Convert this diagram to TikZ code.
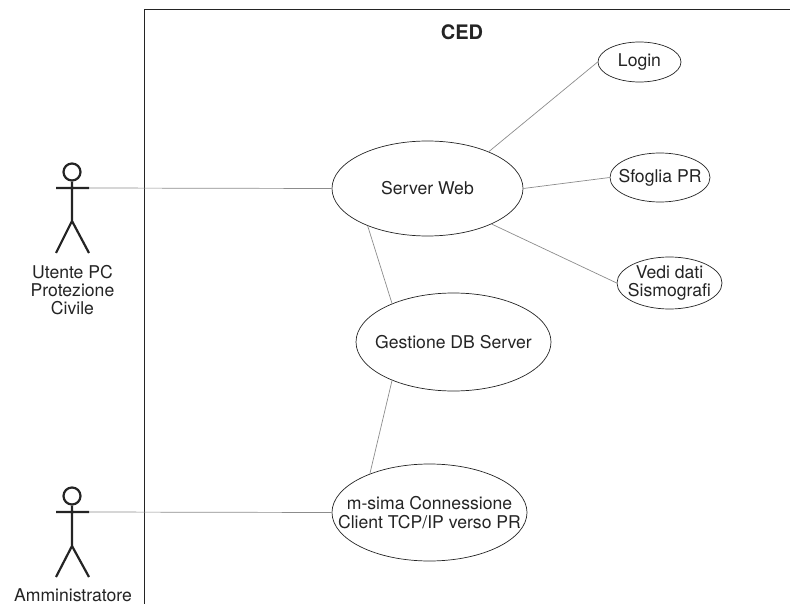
\documentclass[tikz,border=0pt]{standalone}
\usepackage{fontspec}
\setmainfont{TeX Gyre Heros}
\usepackage{xcolor}
\usetikzlibrary{shapes.geometric}
\definecolor{txtgray}{gray}{0.14}
\definecolor{wiregray}{gray}{0.55}

\begin{document}
\begin{tikzpicture} [x=1pt, y=-1pt,
    usecase/.style={draw=txtgray, ellipse, inner sep=-30pt, line width=0.7pt, align=center, font=\fontsize{17.6}{18.5}\selectfont, text=txtgray},
    actorlabel/.style={align=center, inner sep=0pt, font=\fontsize{17.6}{18}\selectfont, text=txtgray},
    stick/.style={draw=txtgray, line width=2.2pt},
    wire/.style={draw=wiregray, line width=0.7pt}
  ]
  \useasboundingbox (0,0) rectangle (790,604);
  % system frame
  \draw[txtgray, line width=1pt] (144,604) -- (144,10) -- (790,10);
  \node[font=\bfseries\fontsize{20}{22}\selectfont, text=txtgray, inner sep=0pt] (ced) at (462,32) {CED};

  % use cases
  \node[usecase, minimum width=191pt, minimum height=95pt] (srv) at (427.5,188.5) {Server Web};
  \node[usecase, minimum width=83pt, minimum height=40pt] (login) at (639.5,62) {Login};
  \node[usecase, minimum width=100pt, minimum height=49pt] (sfoglia) at (660,177.5) {Sfoglia PR};
  \node[usecase, minimum width=105pt, minimum height=52pt] (vedi) at (669.5,283) {Vedi dati\\Sismografi};
  \node[usecase, minimum width=195pt, minimum height=98pt] (db) at (453.5,342) {Gestione DB Server};
  \node[usecase, minimum width=195pt, minimum height=97pt] (msima) at (429.5,512.5) {m-sima Connessione\\Client TCP/IP verso PR};

  % actors
  \node[stick, circle, inner sep=0pt, minimum size=17pt] (headA) at (72,172) {};
  \coordinate (handAl) at (56,188);
  \coordinate (handAr) at (89,188);
  \coordinate (hipA) at (72,221);
  \coordinate (footAl) at (56,253);
  \coordinate (footAr) at (89,253);
  \node[actorlabel] (utente) at (72.5,290) {Utente PC\\Protezione\\Civile};

  \node[stick, circle, inner sep=0pt, minimum size=17pt] (headB) at (72,496) {};
  \coordinate (handBl) at (56,512);
  \coordinate (handBr) at (89,512);
  \coordinate (hipB) at (72,546);
  \coordinate (footBl) at (56,577);
  \coordinate (footBr) at (89,577);
  \node[actorlabel] (admin) at (73,595) {Amministratore};

  \path[stick]
  (headA) -- (hipA) -- (footAl)
  (hipA) -- (footAr)
  (handAl) -- (handAr)
  (headB) -- (hipB) -- (footBl)
  (hipB) -- (footBr)
  (handBl) -- (handBr)
  ;

  \path[wire]
  (handAr) edge (srv.west)
  (handBr) edge (msima.west)
  (srv.31.4) edge (login.west)
  (srv.east) edge (sfoglia.west)
  (srv.-29.9) edge (vedi.west)
  (srv.212.7) edge (db.148.3)
  (db.212.1) edge (msima.147.5)
  ;
\end{tikzpicture}
\end{document}
